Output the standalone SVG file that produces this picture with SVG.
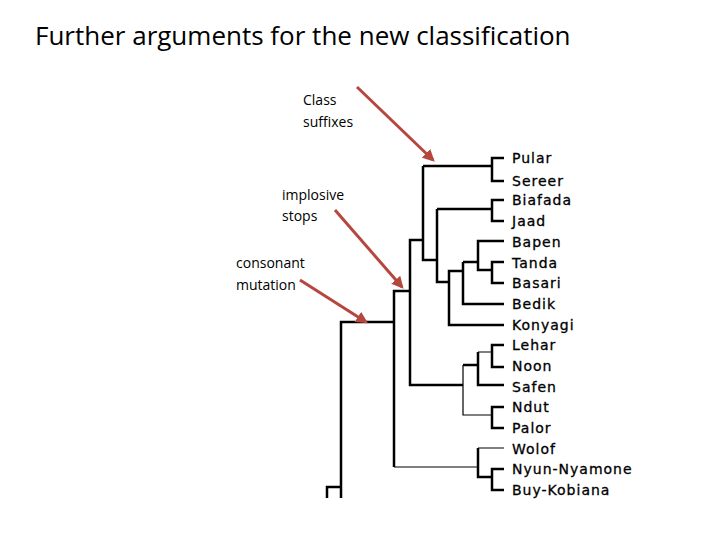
<svg xmlns="http://www.w3.org/2000/svg" width="720" height="540" viewBox="0 0 720 540">
<defs>
<style>
.t{font-family:"Open Sans","Liberation Sans",sans-serif;font-size:26px;fill:#000}
.l{font-family:"Open Sans","Liberation Sans",sans-serif;font-size:14px;fill:#000}
.n{font-family:"DejaVu Sans",sans-serif;font-size:14px;letter-spacing:1px;fill:#000;stroke:#000;stroke-width:0.3}
.b{stroke:#000;stroke-width:2.5;fill:none}
.s{stroke:#000;stroke-width:1.2;fill:none}
.a{stroke:#b5473f;stroke-width:3;fill:none}
</style>
<marker id="ah" viewBox="0 0 10 10" refX="8" refY="5" markerWidth="4" markerHeight="4" orient="auto"><path d="M0,0L10,5L0,10z" fill="#b5473f"/></marker>
</defs>
<rect width="720" height="540" fill="#fff"/>
<text class="t" x="35" y="45">Further arguments for the new classification</text>
<g id="labels">
<text class="l" x="303" y="105">Class</text><text class="l" x="303" y="127">suffixes</text>
<text class="l" x="282" y="200">implosive</text><text class="l" x="282" y="221">stops</text>
<text class="l" x="236" y="268">consonant</text><text class="l" x="236" y="290">mutation</text>
</g>
<g id="leaves">
<text class="n" x="512" y="163">Pular</text>
<text class="n" x="512" y="186">Sereer</text>
<text class="n" x="512" y="205">Biafada</text>
<text class="n" x="512" y="226">Jaad</text>
<text class="n" x="512" y="247">Bapen</text>
<text class="n" x="512" y="268">Tanda</text>
<text class="n" x="512" y="288">Basari</text>
<text class="n" x="512" y="309">Bedik</text>
<text class="n" x="512" y="330">Konyagi</text>
<text class="n" x="512" y="350">Lehar</text>
<text class="n" x="512" y="371">Noon</text>
<text class="n" x="512" y="392">Safen</text>
<text class="n" x="512" y="412">Ndut</text>
<text class="n" x="512" y="433">Palor</text>
<text class="n" x="512" y="454">Wolof</text>
<text class="n" x="512" y="474">Nyun-Nyamone</text>
<text class="n" x="512" y="495">Buy-Kobiana</text>
</g>
<g id="connectors">
<path class="b" d="M504,158H492V181H504M492,166H423M504,200H492V221H504M492,209H437M504,241H478V270H492M504,262H492V283H504M478,262H463M463,262V304H504M463,271H449V325H504M449,282H437V209M437,260H423V166M423,240H410V385H463M410,291H394V467M394,322H341V498M341,487H327V498M463,365H478V385H504M478,352V365M504,345H492V367H504M504,407H492V428H504M478,448V477H492M504,469H492V490H504"/>
<path class="s" d="M463,365V415H492M478,352H492M394,467H478M478,448H504"/>
<path class="a" marker-end="url(#ah)" d="M357,87L433,160"/>
<path class="a" marker-end="url(#ah)" d="M335,210L402,287"/>
<path class="a" marker-end="url(#ah)" d="M300,280L366,322"/>
</g>
</svg>
